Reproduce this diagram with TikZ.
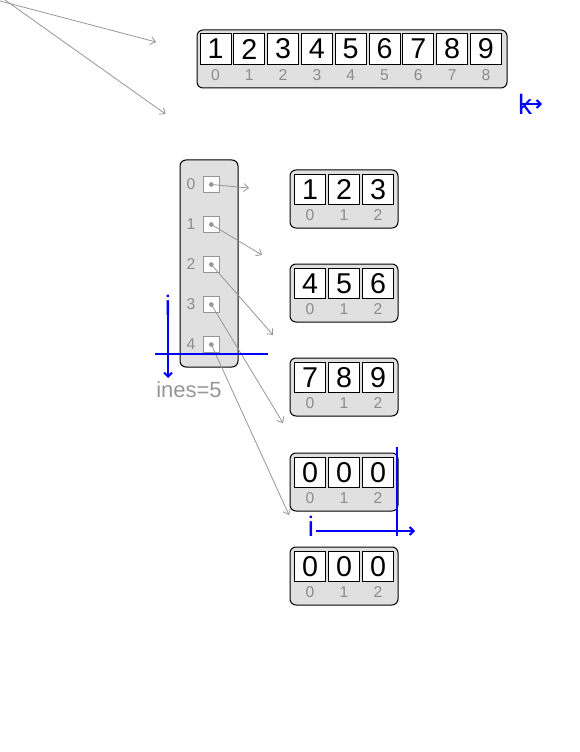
\documentclass[tikz,border=0pt]{standalone}
\usepackage{fontspec}
\setmainfont{Liberation Sans}
\usetikzlibrary{arrows.meta}
\definecolor{boxgray}{RGB}{224,224,224}
\definecolor{idxgray}{RGB}{140,140,140}
\definecolor{ptrgray}{RGB}{150,150,150}
\definecolor{mblue}{RGB}{0,0,255}
\begin{document}
\begin{tikzpicture}[x=0.75pt,y=-0.75pt,
 arrbox/.style={draw=black, fill=boxgray, rounded corners=4.5pt, line width=0.75pt},
 cell/.style={draw=black, fill=white, line width=0.75pt, minimum width=23.25pt, minimum height=22.75pt, inner sep=0pt, font=\fontsize{21.5}{21.5}\selectfont},
 idx/.style={text=idxgray, inner sep=0pt, font=\fontsize{11.75}{11.75}\selectfont},
 ptr/.style={draw=ptrgray, line width=0.6pt, -{Straight Barb[length=3.5pt,width=6pt]}},
 slot/.style={draw=ptrgray, fill=white, minimum size=12pt, inner sep=0pt, line width=0.75pt},
 dotn/.style={circle, fill=ptrgray, minimum size=3.5pt, inner sep=0pt},
 marker/.style={draw=mblue, line width=1.5pt},
 mtext/.style={text=mblue, font=\fontsize{21}{21}\selectfont, inner sep=0pt},
 lbl/.style={text=ptrgray, font=\fontsize{16.5}{16.5}\selectfont, inner sep=0pt},
]
\useasboundingbox (0,0) rectangle (579,752);
% top array
\draw[arrbox] (197,30) rectangle (507,88);
\foreach \v [count=\k from 0] in {1,...,9} {
  \node[cell] (t\k) at ({215.5+33.8*\k},49) {\v};
  \node[idx] (ti\k) at ({215.5+33.8*\k},75) {\k};
}
% sub arrays
\foreach \T/\a/\b/\c [count=\r from 0] in {170/1/2/3, 264/4/5/6, 358/7/8/9, 453/0/0/0, 547/0/0/0} {
  \draw[arrbox] (290,\T) rectangle (398,{\T+58});
  \node[cell] (s\r a) at (310,{\T+19.5}) {\a};
  \node[cell] (s\r b) at (344,{\T+19.5}) {\b};
  \node[cell] (s\r c) at (378,{\T+19.5}) {\c};
  \node[idx] (s\r ia) at (310,{\T+45}) {0};
  \node[idx] (s\r ib) at (344,{\T+45}) {1};
  \node[idx] (s\r ic) at (378,{\T+45}) {2};
}
% left column
\draw[arrbox] (180,160) rectangle (238,367);
\foreach \i in {0,...,4} {
  \node[idx] (l\i) at (191,{184.5+40*\i}) {\i};
  \node[slot] (q\i) at (211.3,{184.5+40*\i}) {};
  \node[dotn] (d\i) at (q\i.center) {};
}
\coordinate (e0) at (249,188);
\coordinate (e1) at (262,255);
\coordinate (e2) at (273,335);
\coordinate (e3) at (283,423);
\coordinate (e4) at (289,515);
\foreach \i in {0,...,4} { \draw[ptr] (d\i.center) -- (e\i); }
% top-left arrows
\coordinate (a0) at (0,1);
\coordinate (a1) at (156,42);
\coordinate (b0) at (5,0);
\coordinate (b1) at (165.5,114);
\draw[ptr] (a0) -- (a1);
\draw[ptr] (b0) -- (b1);
% k marker
\node[mtext] (k) at (525,104) {k};
\coordinate (k0) at (520,104);
\coordinate (k1) at (542,104);
\draw[marker, -{Straight Barb[length=3pt,width=6pt]}] (k0) -- (k1);
% left i marker
\coordinate (il0) at (168,315);
\coordinate (il1) at (168,378);
\draw[marker, -{Straight Barb[length=3pt,width=6pt]}] (il0) -- (il1);
\node[mtext] (il) at (168,305) {i};
\coordinate (h0) at (155,354);
\coordinate (h1) at (268,354);
\draw[marker] (h0) -- (h1);
\node[lbl] (lines) at (189,390) {ines=5};
% bottom i marker
\node[mtext] (ib) at (311,526) {i};
\coordinate (v0) at (397,447);
\coordinate (v1) at (397,536);
\draw[marker] (v0) -- (v1);
\coordinate (g0) at (316,531);
\coordinate (g1) at (415,531);
\draw[marker, -{Straight Barb[length=3pt,width=6pt]}] (g0) -- (g1);
\end{tikzpicture}
\end{document}
